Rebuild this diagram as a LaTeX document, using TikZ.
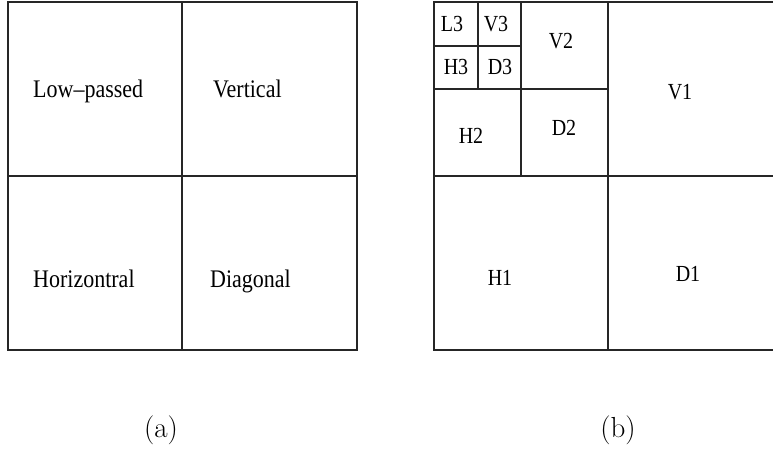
\documentclass[tikz,border=0pt]{standalone}
\usepackage{fontspec}
\usepackage{graphicx}
\newfontfamily\labelfont[Ligatures=TeX]{Liberation Serif}
% labels are set slightly taller than the plain face
\newcommand{\tall}[1]{\scalebox{1}[1.15]{#1}}
\begin{document}
\begin{tikzpicture}[x=1pt,y=-1pt,
  grid/.style={draw=black!85,line width=1.3pt},
  word/.style={font=\labelfont\fontsize{22}{25}\selectfont,inner sep=0pt,anchor=base west},
  band/.style={font=\labelfont\fontsize{20}{23}\selectfont,inner sep=0pt,anchor=base},
  caption/.style={font=\fontsize{29}{32}\selectfont,inner sep=0pt,anchor=base}]
\useasboundingbox (0,0) rectangle (773,450);
\clip (0,0) rectangle (773,450);

% (a) one-level split
\draw[grid] (8,2) rectangle (357,350);
\draw[grid] (182,2) -- (182,350);
\draw[grid] (8,176) -- (357,176);
\node[word] (lp) at (33,97) {\tall{Low\textendash passed}};
\node[word] (ve) at (213,97) {\tall{Vertical}};
\node[word] (ho) at (33,287) {\tall{Horizontral}};
\node[word] (di) at (210,287) {\tall{Diagonal}};

% (b) three-level split
\draw[grid] (434,2) rectangle (783,350);
\draw[grid] (608,2) -- (608,350);
\draw[grid] (434,176) -- (783,176);
\draw[grid] (521,2) -- (521,176);
\draw[grid] (434,89) -- (608,89);
\draw[grid] (478,2) -- (478,89);
\draw[grid] (434,46) -- (521,46);
\node[band] (l3) at (452,31) {\tall{L3}};
\node[band] (v3) at (496,31) {\tall{V3}};
\node[band] (h3) at (456,74) {\tall{H3}};
\node[band] (d3) at (500,74) {\tall{D3}};
\node[band] (v2) at (561,48) {\tall{V2}};
\node[band] (h2) at (471,143) {\tall{H2}};
\node[band] (d2) at (564,135) {\tall{D2}};
\node[band] (v1) at (680,99) {\tall{V1}};
\node[band] (h1) at (500,285) {\tall{H1}};
\node[band] (d1) at (688,281) {\tall{D1}};

\node[caption] (ca) at (161,437) {(a)};
\node[caption] (cb) at (618,437) {(b)};
\end{tikzpicture}
\end{document}
